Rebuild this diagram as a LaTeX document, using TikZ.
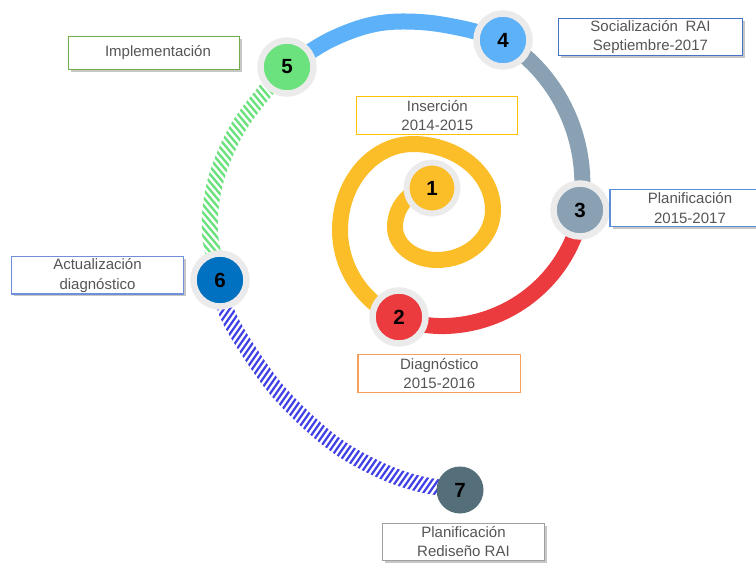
\documentclass[tikz,border=0pt]{standalone}
\usepackage{fontspec}
\setmainfont{Liberation Sans}
\usetikzlibrary{backgrounds,shadows}
\definecolor{cYel}{HTML}{FBBD28}
\definecolor{cRed}{HTML}{EB3B3E}
\definecolor{cGry}{HTML}{8AA1B4}
\definecolor{cLBl}{HTML}{5CB1F9}
\definecolor{cGrn}{HTML}{6BE27E}
\definecolor{cBlu}{HTML}{0070C0}
\definecolor{cSla}{HTML}{546E7A}
\definecolor{cHatch}{HTML}{4040E6}
\definecolor{cHalo}{HTML}{EBEBEB}
\definecolor{cTxt}{HTML}{555555}
\definecolor{cImpl}{HTML}{70AD47}
\definecolor{cSoc}{HTML}{4472C4}
\definecolor{cIns}{HTML}{FFC000}
\definecolor{cPlan}{HTML}{5B8FD8}
\definecolor{cAct}{HTML}{6F8FD8}
\definecolor{cDiag}{HTML}{F6A05C}
\definecolor{cRed2}{HTML}{A0A0A0}
\tikzset{
  stepnum/.style={circle, inner sep=0pt, minimum size=53pt, draw=cHalo, line width=6.5pt,
    font=\fontsize{20.5}{20}\selectfont\bfseries, text=black},
  lbl/.style={draw, fill=white, line width=1.1pt, inner sep=0pt, align=center,
    font=\fontsize{15}{19.5}\selectfont, text=cTxt},
  shad/.style={drop shadow={shadow xshift=2.5pt, shadow yshift=-2.5pt, fill=black, opacity=0.22}},
  band/.style={line width=16pt},
  gap/.style={white, line width=2.3pt}
}
\begin{document}
\begin{tikzpicture}[x=1pt,y=1pt]
\useasboundingbox (0,0) rectangle (756,-565);
% step circles
\node[stepnum, fill=cYel, minimum size=51pt, line width=6pt] (n1) at (432,-188) {1};
\node[stepnum, fill=cRed] (n2) at (399,-317) {2};
\node[stepnum, fill=cGry] (n3) at (580,-210) {3};
\node[stepnum, fill=cLBl] (n4) at (503,-40) {4};
\node[stepnum, fill=cGrn] (n5) at (287,-67) {5};
\node[stepnum, fill=cBlu] (n6) at (220,-280) {6};
\node[stepnum, fill=cSla, draw=none, minimum size=47pt] (n7) at (460,-490) {7};
% labels
\node[lbl, draw=cImpl, shad, minimum width=171pt, minimum height=33pt] (limpl) at (154,-52.7) {\hspace*{8pt}Implementación};
\node[lbl, draw=cSoc, shad, minimum width=184pt, minimum height=37pt] (lsoc) at (650.5,-37) {Socialización\hspace{0.5em}RAI\\Septiembre-2017};
\node[lbl, draw=cIns, minimum width=161pt, minimum height=37.5pt] (lins) at (437.3,-115.5) {Inserción\\2014-2015};
\node[lbl, draw=cPlan, shad, minimum width=160pt, minimum height=37.5pt] (lplan) at (690,-208) {Planificación\\2015-2017};
\node[lbl, draw=cAct, shad, minimum width=171.6pt, minimum height=37.3pt] (lact) at (97.5,-275.3) {Actualización\\diagnóstico};
\node[lbl, draw=cDiag, minimum width=162.7pt, minimum height=38pt] (ldiag) at (439.3,-373.3) {Diagnóstico\\2015-2016};
\node[lbl, draw=cRed2, shad, minimum width=161.6pt, minimum height=36.7pt] (lred) at (463.5,-541.7) {Planificación\\Rediseño RAI};
% connectors
\begin{scope}[on background layer]
\draw[band, cYel] (n1.center)
  arc[start angle=90, end angle=180, x radius=37, y radius=39]
  arc[start angle=180, end angle=270, x radius=42, y radius=33]
  arc[start angle=270, end angle=360, x radius=56, y radius=50]
  arc[start angle=0, end angle=90, x radius=80, y radius=66]
  arc[start angle=90, end angle=180, x radius=73, y radius=86]
  arc[start angle=180, end angle=245, x radius=100, y radius=97] -- (n2.center);
\draw[band, cRed] (n2.center)
  arc[start angle=245, end angle=270, x radius=100, y radius=97]
  arc[start angle=270, end angle=349.5, x radius=143, y radius=142] -- (n3.center);
\draw[band, cGry] (n3.center)
  arc[start angle=349.5, end angle=360, x radius=143, y radius=142]
  arc[start angle=0, end angle=59, x radius=163, y radius=168] -- (n4.center);
\draw[band, cLBl] plot[smooth, tension=0.6] coordinates {(n4.center) (465,-29) (420,-22) (375,-24) (330,-40) (n5.center)};
% hatched green 5 -> 6
\begin{scope}
\clip (250,-62) -- (300,-80) -- (262,-130) -- (240,-180) -- (234,-240) -- (240,-285) -- (195,-285) -- (192,-230) -- (198,-170) -- (222,-115) -- cycle;
\draw[band, cGrn] plot[smooth, tension=0.6] coordinates {(n5.center) (262,-95) (235,-133) (215,-183) (210,-233) (n6.center)};
\begin{scope}[shift={(240,-175)}, rotate=-50]
\foreach \i in {-30,...,30} \draw[gap] (-200,\i*5) -- (200,\i*5);
\end{scope}
\end{scope}
% hatched blue 6 -> 7
\begin{scope}
\clip (200,-268) -- (245,-272) -- (262,-325) -- (300,-375) -- (347,-420) -- (395,-447) -- (445,-462) -- (480,-470) -- (480,-510) -- (420,-502) -- (368,-490) -- (318,-467) -- (268,-423) -- (232,-378) -- (205,-325) -- cycle;
\draw[band, cHatch] plot[smooth, tension=0.6] coordinates {(n6.center) (227,-313) (250,-353) (283,-397) (333,-443) (380,-470) (420,-484) (n7.center)};
\begin{scope}[shift={(340,-390)}, rotate=55]
\foreach \i in {-46,...,46} \draw[gap] (-260,\i*4.8) -- (260,\i*4.8);
\end{scope}
\end{scope}
\end{scope}
\end{tikzpicture}
\end{document}
